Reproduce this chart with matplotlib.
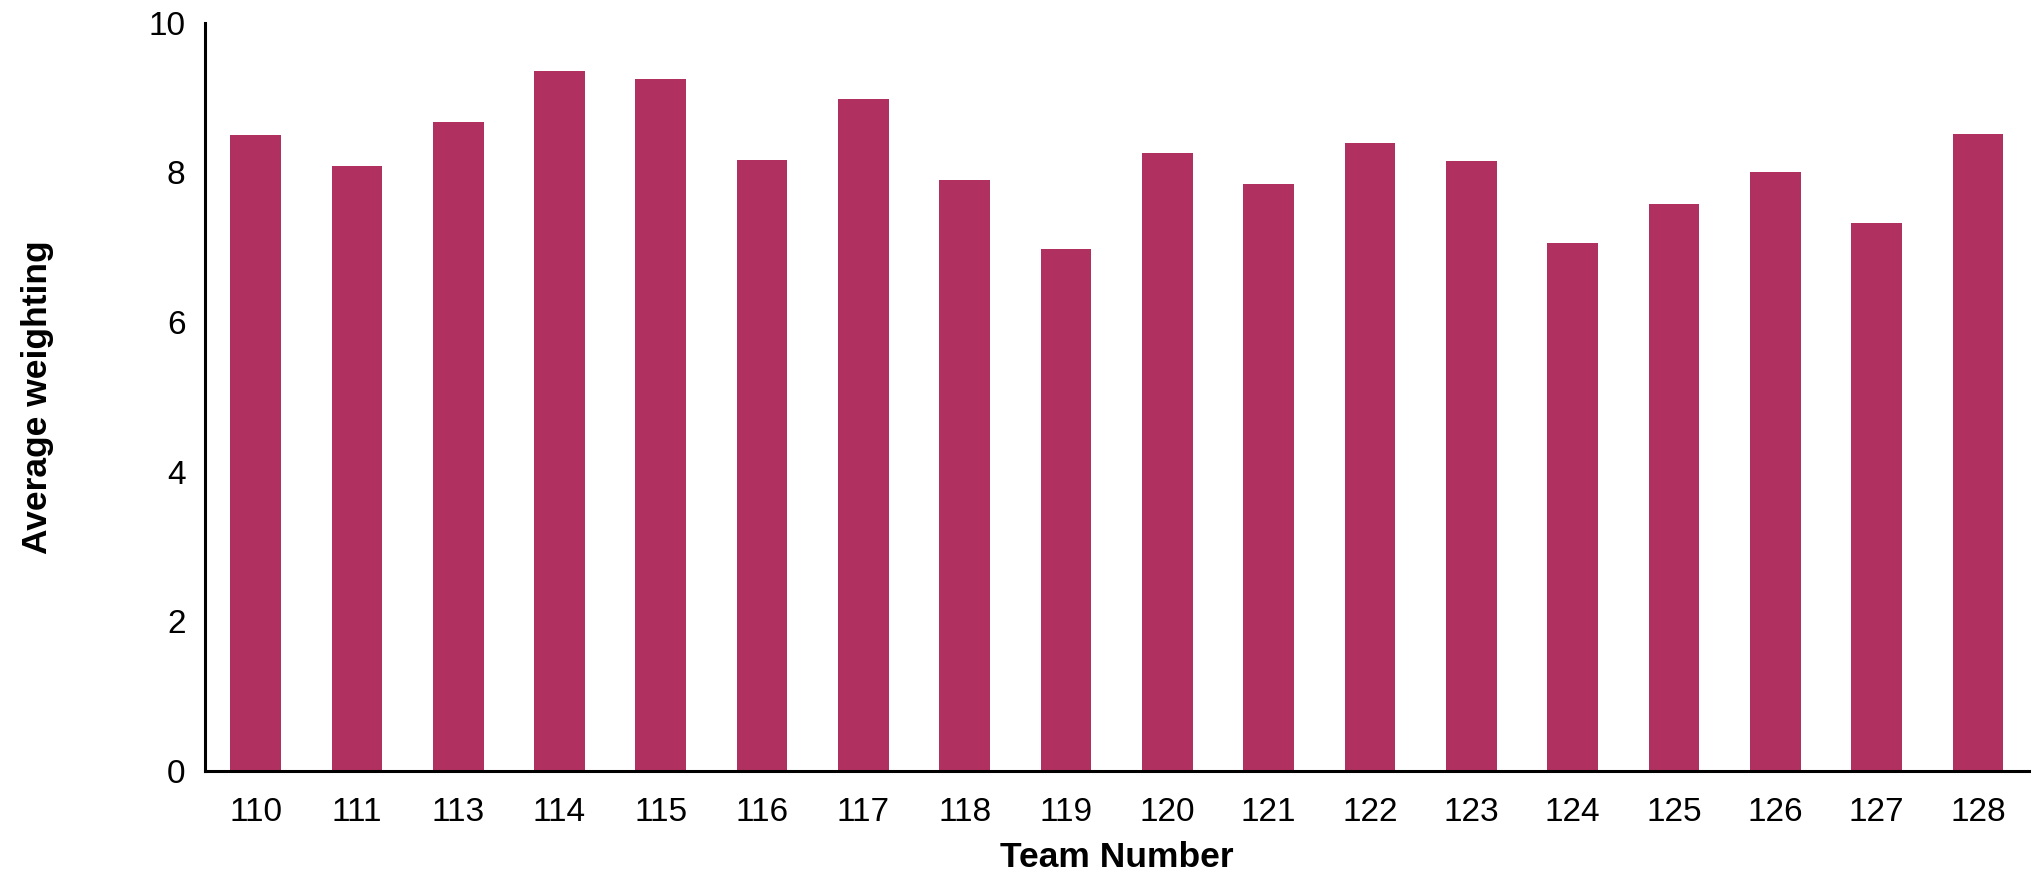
import matplotlib.pyplot as plt

teams = ["110", "111", "113", "114", "115", "116", "117", "118", "119",
         "120", "121", "122", "123", "124", "125", "126", "127", "128"]
avg_weighting = [8.50, 8.09, 8.67, 9.36, 9.25, 8.17, 8.98, 7.90, 6.98,
                 8.26, 7.84, 8.39, 8.15, 7.06, 7.58, 8.00, 7.32, 8.51]

plt.rcParams['font.family'] = ['Liberation Sans', 'DejaVu Sans']

fig = plt.figure(figsize=(20.33, 8.75), dpi=100)
ax = fig.add_axes([0.1008, 0.119, 0.897, 0.855])

x = range(len(teams))
ax.bar(x, avg_weighting, width=0.5, color="#B03060")

ax.set_xlim(-0.5, len(teams) - 0.5)
ax.set_ylim(0, 10)
ax.set_yticks([0, 2, 4, 6, 8, 10])
ax.set_xticks(list(x))
ax.set_xticklabels(teams)
ax.tick_params(axis="both", length=0, labelsize=24)
ax.tick_params(axis="x", pad=19)
ax.tick_params(axis="y", pad=14)

for side in ("top", "right"):
    ax.spines[side].set_visible(False)
for side in ("left", "bottom"):
    ax.spines[side].set_linewidth(2.2)

ax.set_xlabel("Team Number", fontsize=25.5, fontweight="bold", labelpad=9)
ax.set_ylabel("Average weighting", fontsize=25.5, fontweight="bold", labelpad=68)

fig.savefig("out.png", dpi=100)
